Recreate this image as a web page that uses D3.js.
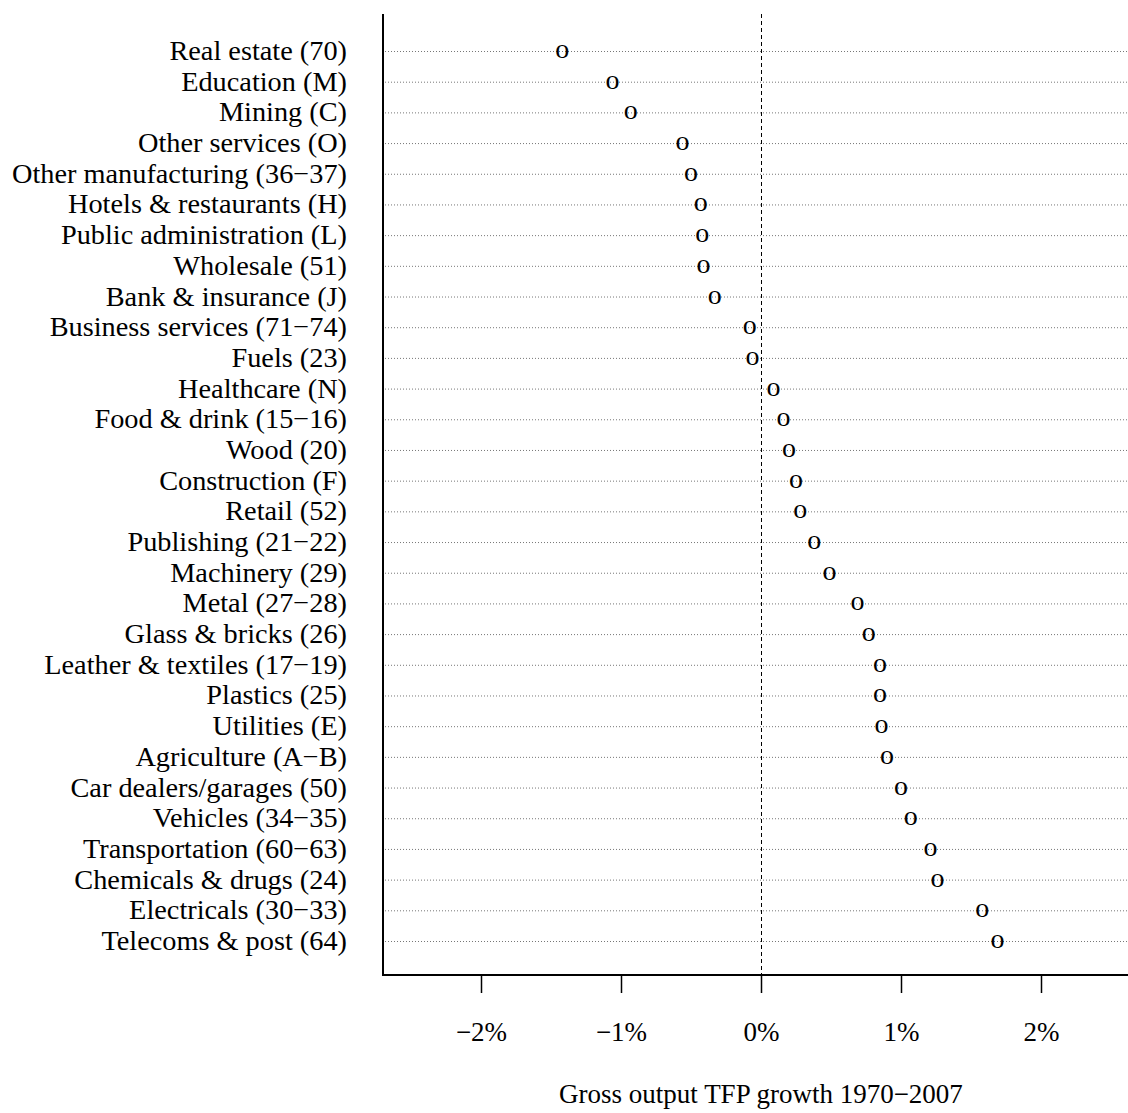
<!DOCTYPE html>
<html><head><meta charset="utf-8">
<script src="https://cdn.jsdelivr.net/npm/d3@7"></script>
<style>body{margin:0;background:#fff}svg{display:block}text{font-family:"Liberation Serif","Times New Roman",serif}</style>
</head><body>
<script>
const categories = ["Real estate (70)","Education (M)","Mining (C)","Other services (O)","Other manufacturing (36\u221237)","Hotels & restaurants (H)","Public administration (L)","Wholesale (51)","Bank & insurance (J)","Business services (71\u221274)","Fuels (23)","Healthcare (N)","Food & drink (15\u221216)","Wood (20)","Construction (F)","Retail (52)","Publishing (21\u221222)","Machinery (29)","Metal (27\u221228)","Glass & bricks (26)","Leather & textiles (17\u221219)","Plastics (25)","Utilities (E)","Agriculture (A\u2212B)","Car dealers/garages (50)","Vehicles (34\u221235)","Transportation (60\u221263)","Chemicals & drugs (24)","Electricals (30\u221233)","Telecoms & post (64)"];
const values = [-1.42,-1.06,-0.93,-0.56,-0.50,-0.43,-0.42,-0.41,-0.33,-0.08,-0.06,0.09,0.16,0.20,0.25,0.28,0.38,0.49,0.69,0.77,0.85,0.85,0.86,0.90,1.00,1.07,1.21,1.26,1.58,1.69];
const tickValues = [-2,-1,0,1,2];
const tickLabels = ["\u22122%","\u22121%","0%","1%","2%"];
const xTitle = "Gross output TFP growth 1970\u22122007";

const W = 1128, H = 1113;
const svg = d3.select("body").append("svg").attr("width", W).attr("height", H);
const x = d3.scaleLinear().domain([0, 1]).range([761, 901]);
const y = d3.scalePoint().domain(categories).range([51, 941]);
const plotLeft = 383, plotTop = 14, plotBottom = 975;

// row dotted lines
svg.append("g").selectAll("line").data(categories).join("line")
  .attr("x1", plotLeft + 2).attr("x2", W)
  .attr("y1", d => y(d) + 0.5).attr("y2", d => y(d) + 0.5)
  .attr("stroke", "#777").attr("stroke-width", 1).attr("stroke-dasharray", "1,2");

// zero dashed line
svg.append("line").attr("x1", x(0) + 0.5).attr("x2", x(0) + 0.5).attr("y1", plotTop).attr("y2", plotBottom)
  .attr("stroke", "#000").attr("stroke-width", 1).attr("stroke-dasharray", "4,3");

// axes frame lines
svg.append("line").attr("x1", plotLeft).attr("x2", plotLeft).attr("y1", plotTop).attr("y2", plotBottom + 1)
  .attr("stroke", "#000").attr("stroke-width", 2);
svg.append("line").attr("x1", plotLeft).attr("x2", W).attr("y1", plotBottom).attr("y2", plotBottom)
  .attr("stroke", "#000").attr("stroke-width", 2);

// x axis
const xAxis = d3.axisBottom(x).tickValues(tickValues).tickSize(18).tickPadding(0)
  .tickFormat((d, i) => tickLabels[i]);
const gx = svg.append("g").attr("transform", `translate(0,${plotBottom})`).call(xAxis);
gx.select(".domain").remove();
gx.selectAll(".tick line").attr("stroke", "#000").attr("stroke-width", 1.5);
gx.selectAll(".tick text").attr("y", 66).attr("dy", null).attr("font-size", 27).attr("fill", "#000")
  .attr("font-family", "Liberation Serif, serif");

// y labels
svg.append("g").selectAll("text").data(categories).join("text")
  .attr("x", 347).attr("y", d => y(d) + 9)
  .attr("text-anchor", "end").attr("font-size", 28.3).attr("fill", "#000").text(d => d);

// points as "o"
svg.append("g").selectAll("text").data(values).join("text")
  .attr("x", d => x(d)).attr("y", (d, i) => y(categories[i]) + 7)
  .attr("text-anchor", "middle").attr("font-size", 28).attr("fill", "#000").text("o");

// x title
svg.append("text").attr("x", 761).attr("y", 1103).attr("text-anchor", "middle")
  .attr("font-size", 27).attr("fill", "#000").text(xTitle);
</script>
</body></html>
